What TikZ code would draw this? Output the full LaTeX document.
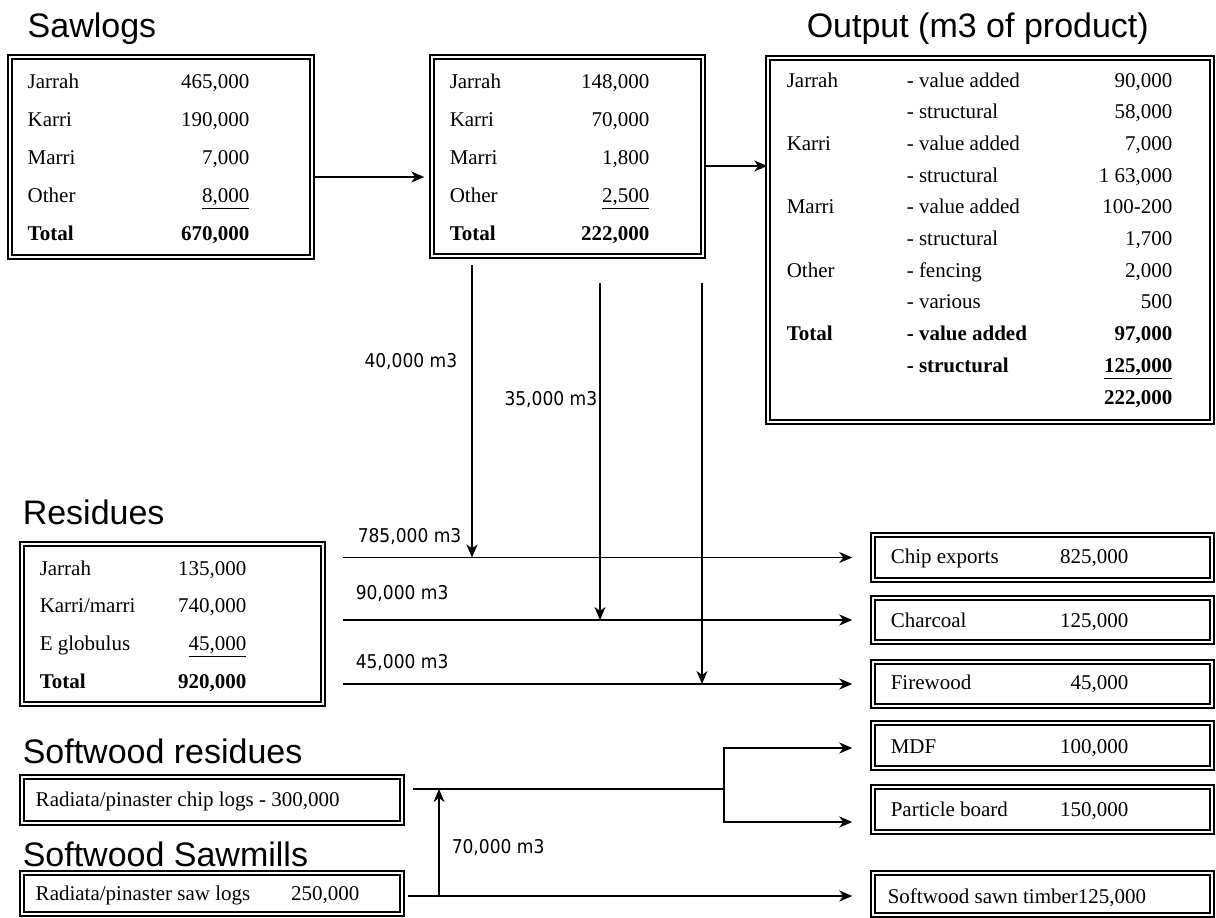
\documentclass[tikz,border=0pt]{standalone}
\usepackage{fontspec}
\setmainfont{Liberation Serif}
\newfontfamily\headfont{Liberation Sans}
\newfontfamily\flowfont{DejaVu Sans Condensed}
\usetikzlibrary{arrows.meta,fit,positioning}
\begin{document}
\begin{tikzpicture}[x=0.5pt,y=-0.5pt,line width=0.75pt,
    box/.style={draw,double,double distance=1.1pt,line width=0.75pt,inner sep=0pt},
    head/.style={anchor=base west,inner sep=0pt,font=\headfont\fontsize{17}{20}\selectfont},
    cell/.style={anchor=base west,inner sep=0pt,font=\fontsize{10.5}{12}\selectfont},
    num/.style={cell,anchor=base east},
    flow/.style={inner sep=0pt,font=\flowfont\fontsize{9.5}{11}\selectfont},
    >={Stealth[length=6.5pt,width=5.5pt,inset=2pt]}]
  \useasboundingbox (0,0) rectangle (1216,917);
  \fill[white] (0,0) rectangle (1216,917);
  % headings
  \node[head] (t-saw) at (27,37) {Sawlogs};
  \node[head] (t-out) at (806,37) {Output (m3 of product)};
  \node[head] (t-res) at (22,524) {Residues};
  \node[head] (t-swres) at (22,763) {Softwood residues};
  \node[head] (t-swmill) at (22,866) {Softwood Sawmills};
  % boxes
  \node[box,fit={(10,57)(312,257)}] (saw) {};
  \node[box,fit={(432,57)(703,256)}] (mill) {};
  \node[box,fit={(768,58)(1212,422)}] (out) {};
  \node[box,fit={(22,544)(323,704)}] (res) {};
  \node[box,fit={(22,777)(402,823)}] (chiplog) {};
  \node[box,fit={(22,873)(402,914)}] (sawlog) {};
  \foreach \n/\ya/\yb/\lab/\val/\yt in {chipexp/535/580/{Chip exports}/{825,000}/563,
      charcoal/598/642/Charcoal/{125,000}/627, firewood/662/706/Firewood/{45,000}/689,
      mdf/723/768/MDF/{100,000}/753, particle/787/832/{Particle board}/{150,000}/816}{
    \node[box,fit={(873,\ya)(1212,\yb)}] (\n) {};
    \node[cell] (\n-l) at (890,\yt) {\lab};
    \node[num] (\n-v) at (1129,\yt) {\val};
  }
  \node[box,fit={(873,873)(1212,915)}] (sawn) {};
  \node[cell] (sawn-l) at (887,903) {Softwood sawn timber125,000};
  % table texts
  \foreach \lab/\val [count=\i] in {Jarrah/{465,000},Karri/{190,000},Marri/{7,000},
      Other/{\underline{8,000}},{\textbf{Total}}/{\textbf{670,000}}}{
    \node[cell] (saw-l\i) at (27,{88+38.2*(\i-1)}) {\lab};
    \node[num] (saw-v\i) at (250,{88+38.2*(\i-1)}) {\val};
  }
  \foreach \lab/\val [count=\i] in {Jarrah/{148,000},Karri/{70,000},Marri/{1,800},
      Other/{\underline{2,500}},{\textbf{Total}}/{\textbf{222,000}}}{
    \node[cell] (mill-l\i) at (449,{88+38.2*(\i-1)}) {\lab};
    \node[num] (mill-v\i) at (650,{88+38.2*(\i-1)}) {\val};
  }
  \foreach \lab/\kind/\val [count=\i] in {Jarrah/{- value added}/{90,000},{}/{- structural}/{58,000},
      Karri/{- value added}/{7,000},{}/{- structural}/{1 63,000},
      Marri/{- value added}/{100-200},{}/{- structural}/{1,700},
      Other/{- fencing}/{2,000},{}/{- various}/{500},
      {\textbf{Total}}/{\textbf{- value added}}/{\textbf{97,000}},
      {}/{\textbf{- structural}}/{\textbf{\underline{125,000}}},{}/{}/{\textbf{222,000}}}{
    \node[cell] (out-l\i) at (786,{87+31.7*(\i-1)}) {\lab};
    \node[cell] (out-k\i) at (906,{87+31.7*(\i-1)}) {\kind};
    \node[num] (out-v\i) at (1173,{87+31.7*(\i-1)}) {\val};
  }
  \foreach \lab/\val [count=\i] in {Jarrah/{135,000},{Karri/marri}/{740,000},
      {E globulus}/{\underline{45,000}},{\textbf{Total}}/{\textbf{920,000}}}{
    \node[cell] (res-l\i) at (39,{575+37.7*(\i-1)}) {\lab};
    \node[num] (res-v\i) at (247,{575+37.7*(\i-1)}) {\val};
  }
  \node[cell] (chiplog-l) at (35,806) {Radiata/pinaster chip logs - 300,000};
  \node[cell] (sawlog-l) at (35,900) {Radiata/pinaster saw logs};
  \node[num] (sawlog-v) at (360,900) {250,000};
  % hardwood flows
  \draw[->,shorten >=3.5pt] (saw.east |- 0,177) -- (mill.west |- 0,177);
  \draw[->] (mill.east |- 0,166) -- (out.west |- 0,166);
  \coordinate (drop1) at (472,265);
  \coordinate (drop2) at (600,283);
  \coordinate (drop3) at (702,283);
  \draw[->] (drop1) -- (drop1 |- chipexp.west);
  \draw[->] (drop2) -- (drop2 |- charcoal.west);
  \draw[->] (drop3) -- (drop3 |- firewood.west);
  \foreach \n in {chipexp,charcoal,firewood}
    \draw[->,shorten <=9.5pt,shorten >=10pt] (res.east |- \n.west) -- (\n.west);
  \node[flow,anchor=base east] (f40) at (458,367) {40,000 m3};
  \node[flow,anchor=base east] (f35) at (598,405) {35,000 m3};
  \node[flow,anchor=base west] (f785) at (357,542) {785,000 m3};
  \node[flow,anchor=base west] (f90) at (355,599) {90,000 m3};
  \node[flow,anchor=base west] (f45) at (355,668) {45,000 m3};
  % softwood flows
  \coordinate (fork) at (724,789);
  \coordinate (lift) at (439,896);
  \draw[shorten <=5pt] (chiplog.east |- fork) -- (fork);
  \draw[->,shorten >=10pt] (fork) |- (mdf.west |- 0,748);
  \draw[->,shorten >=10pt] (fork) |- (particle.west |- 0,822);
  \draw[->,shorten <=2.5pt,shorten >=10pt] (sawlog.east |- lift) -- (sawn.west |- lift);
  \draw[->] (lift) -- (lift |- fork);
  \node[flow,anchor=base west] (f70) at (451,853) {70,000 m3};
\end{tikzpicture}
\end{document}
